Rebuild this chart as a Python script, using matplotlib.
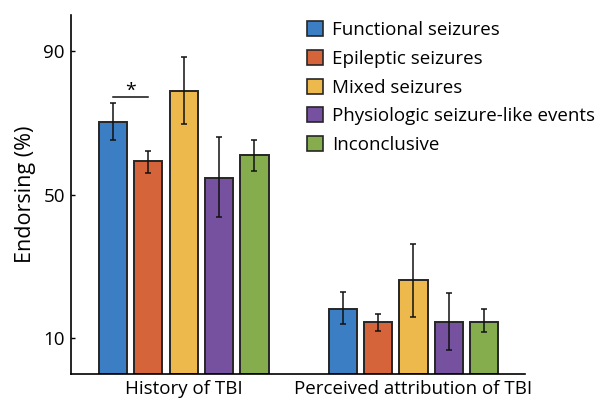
import matplotlib
matplotlib.use('Agg')
import matplotlib.pyplot as plt
import numpy as np
from matplotlib.patches import Patch

plt.rcParams['font.family'] = ['Open Sans', 'DejaVu Sans']

groups = ['History of TBI', 'Perceived attribution of TBI']
series = ['Functional seizures', 'Epileptic seizures', 'Mixed seizures',
          'Physiologic seizure-like events', 'Inconclusive']
colors = ['#3C7EC4', '#D5643A', '#EDB84C', '#7651A0', '#86AD4D']

# endorsing % per series: [history, attribution]
means = [[70.3, 18.2], [59.2, 14.5], [78.7, 26.2], [54.7, 14.5], [61.0, 14.5]]
err_hi = [[75.4, 22.8], [62.2, 16.7], [88.2, 36.2], [66.0, 22.6], [65.2, 18.2]]
err_lo = [[65.1, 13.8], [56.0, 12.0], [69.6, 15.8], [43.8, 6.8], [56.6, 11.8]]

fig = plt.figure(figsize=(6.02, 4.0), dpi=100)
ax = fig.add_axes([0.118, 0.065, 0.754, 0.8975])

x = np.arange(1, len(groups) + 1)
n = len(series)
step = min(0.8, n / (n + 1.5)) / n
width = 0.8 * step

for i in range(n):
    pos = x + (i - (n - 1) / 2) * step
    m = np.array(means[i])
    lo = m - np.array(err_lo[i])
    hi = np.array(err_hi[i]) - m
    ax.bar(pos, m, width, color=colors[i], edgecolor='#262626', linewidth=1.4,
           zorder=2)
    ax.errorbar(pos, m, yerr=[lo, hi], fmt='none', ecolor='#111111',
                elinewidth=1.1, capsize=2.4, capthick=1.1, zorder=3)

# significance marker between functional and epileptic (history)
p0 = x[0] - 2 * step
p1 = x[0] - 1 * step
ax.plot([p0, p1], [77.2, 77.2], color='#111111', lw=1.1)
ax.text((p0 + p1) / 2, 76.3, '*', ha='center', va='bottom', fontsize=14)

ax.set_xlim(0.51, 2.485)
ax.set_ylim(0, 100)
ax.set_yticks([10, 50, 90])
ax.set_xticks(x)
ax.set_xticklabels(groups)
ax.tick_params(axis='x', length=0, labelsize=13.5, pad=4)
ax.tick_params(axis='y', direction='in', length=3, width=1, labelsize=13.5,
               pad=4.5)
ax.set_ylabel('Endorsing (%)', fontsize=15.5, labelpad=5)
for s in ['top', 'right']:
    ax.spines[s].set_visible(False)
for s in ['left', 'bottom']:
    ax.spines[s].set_linewidth(1.2)

handles = [Patch(facecolor=c, edgecolor='#262626', linewidth=1.2) for c in colors]
fig.legend(handles, series, loc='upper left', bbox_to_anchor=(0.494, 0.97),
           frameon=False, fontsize=13.5, borderpad=0, handlelength=0.85,
           handleheight=0.85, handletextpad=0.48, labelspacing=0.57)

fig.savefig('out.png', dpi=100)
